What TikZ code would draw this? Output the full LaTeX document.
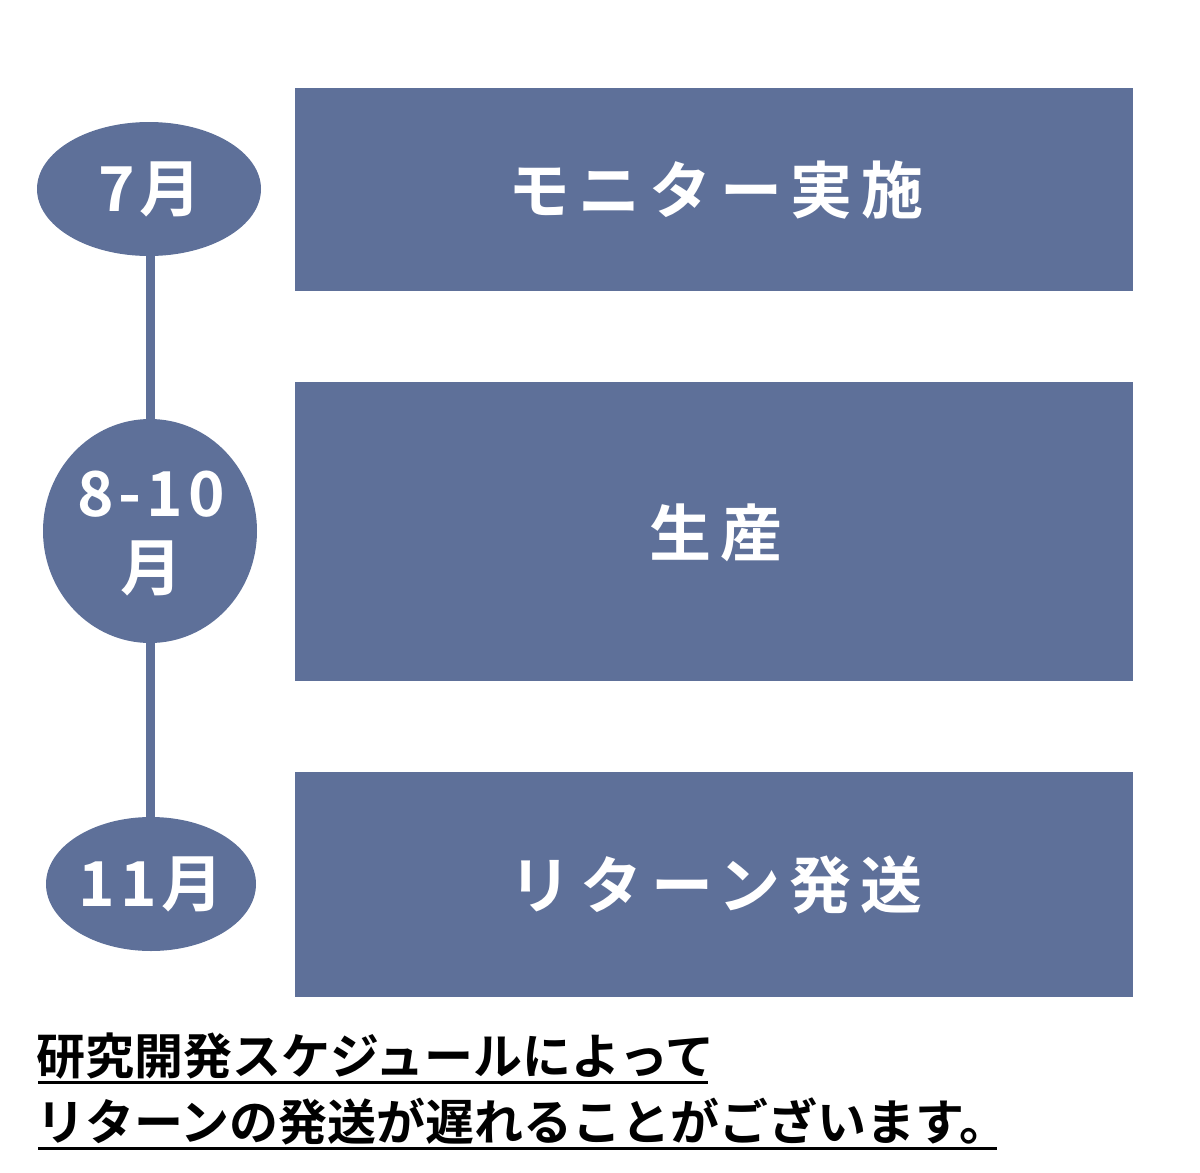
\documentclass[tikz,border=0pt]{standalone}
\usepackage{fontspec}
\newfontfamily\jpb[LetterSpace=0]{Noto Sans CJK JP Bold}
\newfontfamily\jpbox[LetterSpace=14]{Noto Sans CJK JP Bold}
\newfontfamily\jpnum[LetterSpace=8]{Noto Sans CJK JP Bold}
\definecolor{slate}{HTML}{5E7099}
\begin{document}
\begin{tikzpicture}[x=1pt,y=-1pt,
  boxstyle/.style={fill=slate,draw=none},
  ovalstyle/.style={fill=slate,draw=none},
  boxtext/.style={text=white,font=\jpbox\fontsize{62}{68}\selectfont,inner sep=0},
  ovaltext/.style={text=white,font=\jpnum\fontsize{62}{68}\selectfont,inner sep=0,align=center},
  notetext/.style={text=black,font=\jpb\fontsize{49}{54}\selectfont,inner sep=0,anchor=base west},
  uline/.style={line width=3pt,black}]
\useasboundingbox (0,0) rectangle (1200,1173);
% timeline
\draw[slate,line width=9pt] (150,250) -- (150,880);
% ovals
\fill[ovalstyle] (149,189) ellipse [x radius=112, y radius=67];
\fill[ovalstyle] (150,531) ellipse [x radius=107, y radius=112];
\fill[ovalstyle] (151,884) ellipse [x radius=105, y radius=67];
\node[ovaltext] (o1) at (150,189) {7月};
\node[ovaltext] (o2) at (151,533) {8-10\\[6pt]月};
\node[ovaltext] (o3) at (151,884) {11月};
% boxes
\fill[boxstyle] (295,88) rectangle (1133,291);
\fill[boxstyle] (295,382) rectangle (1133,681);
\fill[boxstyle] (295,772) rectangle (1133,997);
\node[boxtext] (b1) at (716,190) {モニター実施};
\node[boxtext] (b2) at (716,533) {生産};
\node[boxtext] (b3) at (716,885) {リターン発送};
% note
\node[notetext] (n1) at (36,1074) {研究開発スケジュールによって};
\node[notetext] (n2) at (36,1140) {リターンの発送が遅れることがございます。};
\draw[uline] (38,1082) -- (708,1082);
\draw[uline] (38,1148) -- (997,1148);
\end{tikzpicture}
\end{document}
